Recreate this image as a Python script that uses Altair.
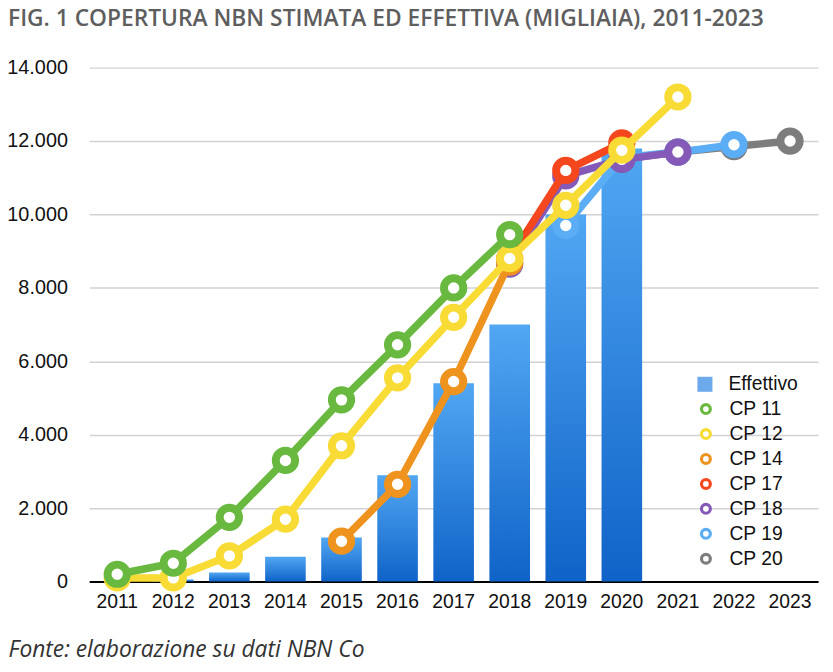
import altair as alt
import pandas as pd

years = ["2011", "2012", "2013", "2014", "2015", "2016", "2017",
         "2018", "2019", "2020", "2021", "2022", "2023"]

effettivo = [0, 60, 250, 680, 1200, 2900, 5400, 7000, 10000, 11800, None, None, None]

cp11 = [200, 500, 1750, 3300, 4950, 6450, 8000, 9450, None, None, None, None, None]
cp12 = [100, 100, 700, 1700, 3700, 5550, 7200, 8800, 10250, 11750, 13200, None, None]
cp14 = [None, None, None, None, 1100, 2650, 5450, 8700, None, None, None, None, None]
cp17 = [None, None, None, None, None, None, None, 8800, 11200, 11950, None, None, None]
cp18 = [None, None, None, None, None, None, None, 8650, 11050, 11500, 11700, None, None]
cp19 = [None, None, None, None, None, None, None, None, 9700, 11550, 11700, 11900, None]
cp20 = [None, None, None, None, None, None, None, None, None, 11500, 11700, 11850, 12000]

series_names = ["CP 11", "CP 12", "CP 14", "CP 17", "CP 18", "CP 19", "CP 20"]
series_values = [cp11, cp12, cp14, cp17, cp18, cp19, cp20]
series_colors = ["#69b940", "#f8dc35", "#ef931f", "#f4471d", "#8559b8", "#5badf5", "#7d7d7d"]

bar_label = "Effettivo"
bar_color = "#2f86e3"

bars_df = pd.DataFrame({"anno": years, "valore": effettivo, "tipo": bar_label}).dropna()

rows = []
for name, vals in zip(series_names, series_values):
    for y, v in zip(years, vals):
        if v is not None:
            rows.append({"anno": y, "valore": v, "serie": name})
lines_df = pd.DataFrame(rows)

x_enc = alt.X(
    "anno:O",
    scale=alt.Scale(domain=years, paddingInner=0.28, paddingOuter=0.14),
    axis=alt.Axis(
        title="Fonte: elaborazione su dati NBN Co",
        titleFont="Open Sans", titleFontStyle="italic", titleFontWeight="normal",
        titleFontSize=23, titleColor="#333333",
        titleAnchor="start", titleAlign="left", titleBaseline="alphabetic",
        titleX=-82, titleY=76,
        labelAngle=0, labelFont="Liberation Sans", labelFontSize=19.5,
        labelColor="#111111", labelPadding=11,
        ticks=False, domainColor="#000000", domainWidth=2,
    ),
)
y_enc = alt.Y(
    "valore:Q",
    scale=alt.Scale(domain=[0, 14000], nice=False),
    axis=alt.Axis(
        title=None, values=list(range(0, 14001, 2000)),
        labelExpr="replace(format(datum.value, ','), ',', '.')",
        labelFont="Liberation Sans", labelFontSize=20, labelColor="#111111",
        labelPadding=22, ticks=False, domain=False,
        gridColor="#d2d2d2", gridWidth=1.5,
    ),
)

bars = alt.Chart(bars_df).mark_bar(
    size=41,
    color=alt.Gradient(
        gradient="linear", x1=0, y1=0, x2=0, y2=1,
        stops=[alt.GradientStop(offset=0, color="#52a7f3"),
               alt.GradientStop(offset=1, color="#0f63c8")],
    ),
).encode(x=x_enc, y=y_enc)

# legend-only layer for the bars (no marks drawn, only the legend entry)
bar_legend = alt.Chart(bars_df).transform_filter("false").mark_square(size=230).encode(
    x=x_enc, y=y_enc,
    fill=alt.Fill(
        "tipo:N",
        scale=alt.Scale(domain=[bar_label], range=[bar_color]),
        legend=alt.Legend(
            title=None, orient="none", legendX=612, legendY=310,
            labelFont="Liberation Sans", labelFontSize=19.5, labelColor="#111111",
            labelOffset=14, symbolType="square", symbolSize=230,
            symbolStrokeWidth=0,
        ),
    ),
)

stroke_enc = alt.Stroke(
    "serie:N",
    scale=alt.Scale(domain=series_names, range=series_colors),
    legend=alt.Legend(
        title=None, orient="none", legendX=613, legendY=335,
        labelFont="Liberation Sans", labelFontSize=19.5, labelColor="#111111",
        labelOffset=14, rowPadding=2.2, symbolType="circle", symbolSize=80,
        symbolStrokeWidth=3.2, symbolFillColor="#ffffff",
    ),
)

base = alt.Chart(lines_df)
layers = [bars, bar_legend]
for name in reversed(series_names):
    sub = base.transform_filter(alt.datum.serie == name)
    line = sub.mark_line(strokeWidth=7.5, strokeJoin="round", strokeCap="round").encode(
        x=x_enc, y=y_enc, stroke=stroke_enc
    )
    pts = sub.mark_point(size=380, strokeWidth=8, fill="#ffffff", fillOpacity=1, opacity=1).encode(
        x=x_enc, y=y_enc, stroke=stroke_enc
    )
    layers += [line, pts]

chart = alt.layer(*layers).properties(
    width=736, height=519,
    padding={"left": 82, "top": 57, "right": 7, "bottom": 80},
    autosize=alt.AutoSizeParams(type="none"),
    title=alt.TitleParams(
        "FIG. 1 COPERTURA NBN STIMATA ED EFFETTIVA (MIGLIAIA), 2011-2023",
        anchor="start", frame="group", dx=-82, offset=4, baseline="bottom",
        font="Open Sans", fontWeight=600, fontSize=23, color="#5e5e5e",
    ),
).configure_view(stroke=None)

chart.save("out.html", embed_options={"renderer": "svg", "actions": False})
